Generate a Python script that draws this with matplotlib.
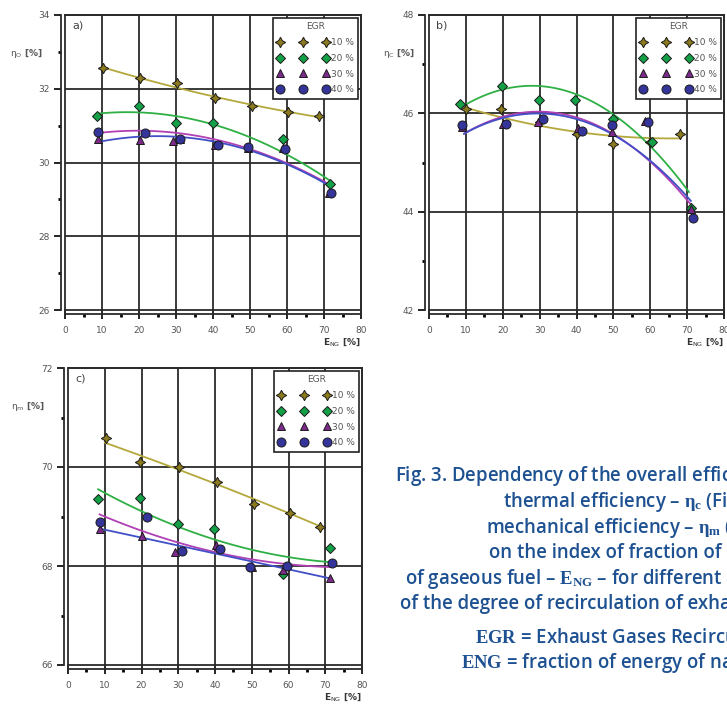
import matplotlib
matplotlib.use('Agg')
import matplotlib.pyplot as plt
import numpy as np
from matplotlib.patches import Rectangle
from matplotlib.ticker import MultipleLocator

plt.rcParams['mathtext.fontset'] = 'custom'
plt.rcParams['mathtext.rm'] = 'Liberation Serif'
plt.rcParams['mathtext.bf'] = 'Liberation Serif:bold'
plt.rcParams['mathtext.it'] = 'Liberation Serif:italic'
plt.rcParams['mathtext.sf'] = 'DejaVu Sans'

EGR_LABELS = ['10 %', '20 %', '30 %', '40 %']
MARKERS = [(4, 1, 0), 'D', '^', 'o']
MARKER_SIZES = [7.5, 5.0, 6.0, 6.5]
MARKER_COLORS = ['#8c7a1e', '#14a046', '#7c2a8c', '#34349a']
LINE_COLORS = ['#b4a83c', '#2eb045', '#b040b4', '#4250c8']

# --- a) overall efficiency: measured points
A_X = [[10.4, 20.3, 30.2, 40.5, 50.5, 60.4, 68.7],
       [8.6, 20.1, 30.0, 40.1, 58.8, 71.6],
       [9.0, 20.3, 29.1, 31.1, 40.5, 49.5, 58.8, 71.4],
       [9.0, 21.6, 31.1, 41.4, 49.5, 59.5, 71.9]]
A_Y = [[32.55, 32.28, 32.16, 31.75, 31.52, 31.37, 31.27],
       [31.26, 31.53, 31.08, 31.06, 30.63, 29.43],
       [30.65, 30.60, 30.59, 30.63, 30.47, 30.38, 30.38, 29.18],
       [30.84, 30.81, 30.63, 30.47, 30.43, 30.37, 29.18]]
# trend lines
A_TX = [[10.4, 20.3, 30.2, 40.5, 50.5, 60.4, 68.7],
        [8.6, 20.3, 30.2, 40.1, 50.5, 60.4, 71.6],
        [9.0, 20.3, 30.2, 40.1, 50.5, 60.4, 71.6],
        [9.0, 20.3, 30.2, 40.1, 50.5, 60.4, 71.6]]
A_TY = [[32.55, 32.31, 32.07, 31.78, 31.53, 31.35, 31.26],
        [31.33, 31.36, 31.24, 31.02, 30.65, 30.25, 29.48],
        [30.79, 30.88, 30.81, 30.61, 30.34, 29.98, 29.39],
        [30.56, 30.70, 30.70, 30.56, 30.29, 29.98, 29.34]]

# --- b) thermal efficiency
B_X = [[10.0, 19.6, 30.0, 40.0, 50.0, 60.0, 68.0],
       [8.5, 19.8, 29.7, 39.7, 50.0, 60.5, 71.0],
       [9.0, 20.0, 29.5, 40.5, 49.5, 58.5, 71.0],
       [9.0, 21.0, 31.0, 41.5, 49.5, 59.5, 71.5]]
B_Y = [[46.08, 46.08, 45.82, 45.58, 45.38, 45.42, 45.58],
       [46.18, 46.55, 46.27, 46.27, 45.88, 45.42, 44.08],
       [45.72, 45.78, 45.82, 45.70, 45.62, 45.85, 44.05],
       [45.77, 45.78, 45.88, 45.64, 45.76, 45.82, 43.87]]
B_TX = [[9.5, 20.0, 30.0, 40.0, 50.0, 60.0, 68.0],
        [8.6, 20.0, 30.0, 39.3, 49.0, 59.8, 70.5],
        [9.5, 19.8, 29.5, 39.3, 49.1, 59.8, 71.0],
        [9.5, 19.8, 29.5, 39.3, 49.1, 59.8, 71.0]]
B_TY = [[46.12, 45.92, 45.76, 45.62, 45.53, 45.49, 45.50],
        [46.12, 46.46, 46.58, 46.44, 46.00, 45.32, 44.42],
        [45.56, 45.95, 46.05, 45.95, 45.60, 44.98, 44.18],
        [45.56, 45.92, 46.02, 45.92, 45.58, 44.99, 44.26]]

# --- c) mechanical efficiency
C_X = [[10.3, 19.5, 30.2, 40.6, 50.6, 60.3, 68.5],
       [8.2, 19.5, 29.8, 39.8, 58.6, 71.4],
       [8.6, 20.0, 29.1, 40.3, 50.0, 58.5, 71.4],
       [8.8, 21.4, 30.9, 41.4, 49.4, 59.5, 71.8]]
C_Y = [[70.58, 70.11, 69.99, 69.69, 69.26, 69.08, 68.78],
       [69.35, 69.37, 68.85, 68.75, 67.83, 68.36],
       [68.75, 68.60, 68.29, 68.43, 67.97, 67.92, 67.75],
       [68.88, 68.99, 68.31, 68.34, 67.97, 67.99, 68.06]]
C_TX = [[10.0, 19.5, 30.0, 40.6, 50.5, 60.3, 68.5],
        [8.2, 19.5, 29.5, 39.5, 50.5, 60.3, 71.4],
        [8.6, 20.0, 29.5, 39.5, 50.5, 60.3, 71.4],
        [8.6, 20.0, 29.5, 39.5, 50.5, 60.3, 71.4]]
C_TY = [[70.52, 70.18, 69.97, 69.67, 69.34, 69.07, 68.80],
        [69.54, 69.13, 68.83, 68.53, 68.32, 68.16, 68.09],
        [69.03, 68.73, 68.49, 68.29, 68.12, 68.02, 67.99],
        [68.76, 68.56, 68.43, 68.26, 68.09, 67.92, 67.75]]

CAPTION = [
    'Fig. 3. Dependency of the overall efficiency \u2013 $\\mathbf{\\eta_o}$ (Fig. 3a),',
    'thermal efficiency \u2013 $\\mathbf{\\eta_c}$ (Fig. 3b),',
    'mechanical efficiency \u2013 $\\mathbf{\\eta_m}$ (Fig. 3c)',
    'on the index of fraction of energy',
    'of gaseous fuel \u2013 $\\mathbf{E_{NG}}$ \u2013 for different amounts',
    'of the degree of recirculation of exhaust gases',
    '$\\mathbf{EGR}$ = Exhaust Gases Recirculation',
    '$\\mathbf{ENG}$ = fraction of energy of natural gas',
]
CAPTION_LEFT_PX = [395, 503, 486, 489, 405, 400, 475, 461]
CAPTION_BASE_PX = [481, 507, 533, 558, 584, 609, 643, 668]

W, H = 727, 705


def draw_panel(rect, ylim, ylabel, tag, xs, ys, txs, tys, lab_x):
    ax = fig.add_axes(rect)
    ax.set_xlim(0, 80)
    ax.set_ylim(*ylim)
    ax.xaxis.set_major_locator(MultipleLocator(10))
    ax.xaxis.set_minor_locator(MultipleLocator(5))
    ax.yaxis.set_major_locator(MultipleLocator(2))
    ax.yaxis.set_minor_locator(MultipleLocator(1))
    for v in range(10, 80, 10):
        ax.axvline(v, color='#2b2b2b', lw=1.3, zorder=1)
    for v in range(ylim[0] + 2, ylim[1], 2):
        ax.axhline(v, color='#2b2b2b', lw=1.3, zorder=1)
    ax.spines['left'].set_position(('outward', 3))
    ax.spines['bottom'].set_position(('outward', 3))
    for s in ax.spines.values():
        s.set_linewidth(1.3)
        s.set_color('#2b2b2b')
    ax.add_patch(Rectangle((0, 0), 1, 1, transform=ax.transAxes, fill=False,
                           lw=1.3, ec='#2b2b2b', zorder=5, clip_on=False))
    ax.tick_params(axis='y', which='major', direction='out', length=5, width=1.2,
                   labelsize=6.5, labelcolor='#555555', pad=3)
    ax.tick_params(axis='x', which='major', direction='inout', length=7, width=1.2,
                   labelsize=6.5, labelcolor='#555555', pad=5)
    ax.tick_params(which='minor', direction='out', length=2, width=2)

    handles = []
    for i in range(4):
        cx = np.linspace(txs[i][0], txs[i][-1], 120)
        coef = np.polyfit(txs[i], tys[i], 2)
        ax.plot(cx, np.polyval(coef, cx), color=LINE_COLORS[i], lw=1.3, zorder=3)
    for i in range(4):
        h, = ax.plot(xs[i], ys[i], ls='none', marker=MARKERS[i], ms=MARKER_SIZES[i],
                     mfc=MARKER_COLORS[i], mec='#1a1a1a', mew=0.7, zorder=4,
                     label=EGR_LABELS[i])
        handles.append(h)
    leg = ax.legend(handles=handles, title='EGR', loc='upper right', numpoints=3,
                    fontsize=6.5, title_fontsize=6.5, handlelength=5.7,
                    handletextpad=0.2, labelspacing=0.75, borderpad=0.5,
                    borderaxespad=0.3, fancybox=False, framealpha=1,
                    edgecolor='#222222')
    leg.get_frame().set_linewidth(1.2)
    for t in leg.get_texts():
        t.set_color('#555555')
    leg.get_title().set_color('#555555')
    leg.set_zorder(6)

    ax.text(lab_x, 0.87, ylabel, transform=ax.transAxes, ha='right', va='center',
            fontsize=6.5, color='#555555', fontweight='bold')
    ax.text(0.025, 0.965, tag, transform=ax.transAxes, ha='left', va='center',
            fontsize=8, color='#444444')
    ax.text(1.0, -0.11, 'E$_{\\mathsf{NG}}$ [%]', transform=ax.transAxes, ha='right',
            va='center', fontsize=6.5, color='#333333', fontweight='bold')
    return ax


fig = plt.figure(figsize=(W / 100, H / 100), dpi=100)


def frac(left, right, top, bottom):
    return [left / W, 1 - bottom / H, (right - left) / W, (bottom - top) / H]


draw_panel(frac(65, 361, 15, 310), (26, 34), '$\\mathsf{\\eta_O}$ [%]', 'a)',
           A_X, A_Y, A_TX, A_TY, -0.074)
draw_panel(frac(429, 724, 15, 310), (42, 48), '$\\mathsf{\\eta_C}$ [%]', 'b)',
           B_X, B_Y, B_TX, B_TY, -0.047)
draw_panel(frac(68, 362, 368, 665), (66, 72), '$\\mathsf{\\eta_m}$ [%]', 'c)',
           C_X, C_Y, C_TX, C_TY, -0.078)

# caption runs past the right edge, as in the cropped original
for line, lx, by in zip(CAPTION, CAPTION_LEFT_PX, CAPTION_BASE_PX):
    fig.text(lx / W, 1 - by / H, line, ha='left', va='baseline', fontsize=13.4,
             family='Open Sans', fontweight='semibold', color='#1d5191')

fig.savefig('out.png', dpi=100)
